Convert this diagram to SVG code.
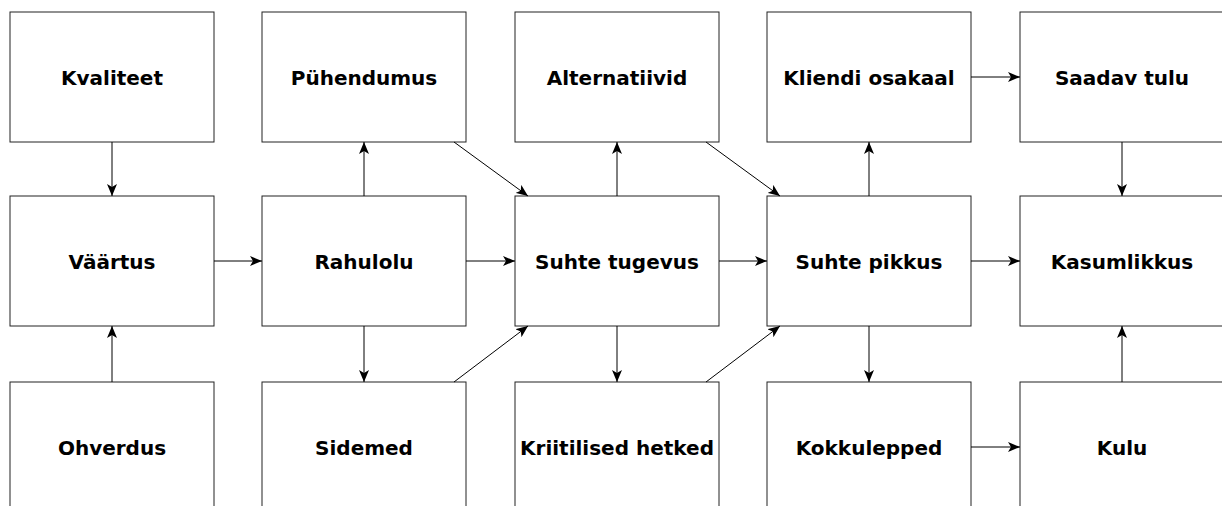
<svg xmlns="http://www.w3.org/2000/svg" width="1222" height="506" viewBox="0 0 1222 506">
<style>
.box{fill:#fff;stroke:#222;stroke-width:1}
.lbl{font-family:"DejaVu Sans",Verdana,sans-serif;font-weight:bold;font-size:20px;fill:#000;text-anchor:middle}
.c{stroke:#000;stroke-width:1;fill:none;marker-end:url(#ah)}
</style>
<defs>
<marker id="ah" viewBox="0 0 12 10" refX="12" refY="5" markerWidth="12" markerHeight="10" markerUnits="userSpaceOnUse" orient="auto">
<path d="M0,0 L12,5 L0,10 L3,5 Z" fill="#000"/>
</marker>
</defs>
<rect width="1222" height="506" fill="#fff"/>
<g id="n-kvaliteet"><rect class="box" x="10" y="12" width="204" height="130"/><text class="lbl" x="112" y="85">Kvaliteet</text></g>
<g id="n-puhendumus"><rect class="box" x="262" y="12" width="204" height="130"/><text class="lbl" x="364" y="85">Pühendumus</text></g>
<g id="n-alternatiivid"><rect class="box" x="515" y="12" width="204" height="130"/><text class="lbl" x="617" y="85">Alternatiivid</text></g>
<g id="n-kliendi"><rect class="box" x="767" y="12" width="204" height="130"/><text class="lbl" x="869" y="85">Kliendi osakaal</text></g>
<g id="n-saadav"><rect class="box" x="1020" y="12" width="204" height="130"/><text class="lbl" x="1122" y="85">Saadav tulu</text></g>
<g id="n-vaartus"><rect class="box" x="10" y="196" width="204" height="130"/><text class="lbl" x="112" y="269">Väärtus</text></g>
<g id="n-rahulolu"><rect class="box" x="262" y="196" width="204" height="130"/><text class="lbl" x="364" y="269">Rahulolu</text></g>
<g id="n-tugevus"><rect class="box" x="515" y="196" width="204" height="130"/><text class="lbl" x="617" y="269">Suhte tugevus</text></g>
<g id="n-pikkus"><rect class="box" x="767" y="196" width="204" height="130"/><text class="lbl" x="869" y="269">Suhte pikkus</text></g>
<g id="n-kasumlikkus"><rect class="box" x="1020" y="196" width="204" height="130"/><text class="lbl" x="1122" y="269">Kasumlikkus</text></g>
<g id="n-ohverdus"><rect class="box" x="10" y="382" width="204" height="130"/><text class="lbl" x="112" y="455">Ohverdus</text></g>
<g id="n-sidemed"><rect class="box" x="262" y="382" width="204" height="130"/><text class="lbl" x="364" y="455">Sidemed</text></g>
<g id="n-kriitilised"><rect class="box" x="515" y="382" width="204" height="130"/><text class="lbl" x="617" y="455">Kriitilised hetked</text></g>
<g id="n-kokkulepped"><rect class="box" x="767" y="382" width="204" height="130"/><text class="lbl" x="869" y="455">Kokkulepped</text></g>
<g id="n-kulu"><rect class="box" x="1020" y="382" width="204" height="130"/><text class="lbl" x="1122" y="455">Kulu</text></g>
<g id="connectors">
<path class="c" d="M112,142 L112,196"/>
<path class="c" d="M112,382 L112,326"/>
<path class="c" d="M214,261 L262,261"/>
<path class="c" d="M364,196 L364,142"/>
<path class="c" d="M364,326 L364,382"/>
<path class="c" d="M466,261 L515,261"/>
<path class="c" d="M454,142 L528,196"/>
<path class="c" d="M454,382 L528,326"/>
<path class="c" d="M617,196 L617,142"/>
<path class="c" d="M617,326 L617,382"/>
<path class="c" d="M719,261 L767,261"/>
<path class="c" d="M706,142 L780,196"/>
<path class="c" d="M706,382 L780,326"/>
<path class="c" d="M869,196 L869,142"/>
<path class="c" d="M869,326 L869,382"/>
<path class="c" d="M971,261 L1020,261"/>
<path class="c" d="M971,77 L1020,77"/>
<path class="c" d="M1122,142 L1122,196"/>
<path class="c" d="M971,447 L1020,447"/>
<path class="c" d="M1122,382 L1122,326"/>
</g>
</svg>
